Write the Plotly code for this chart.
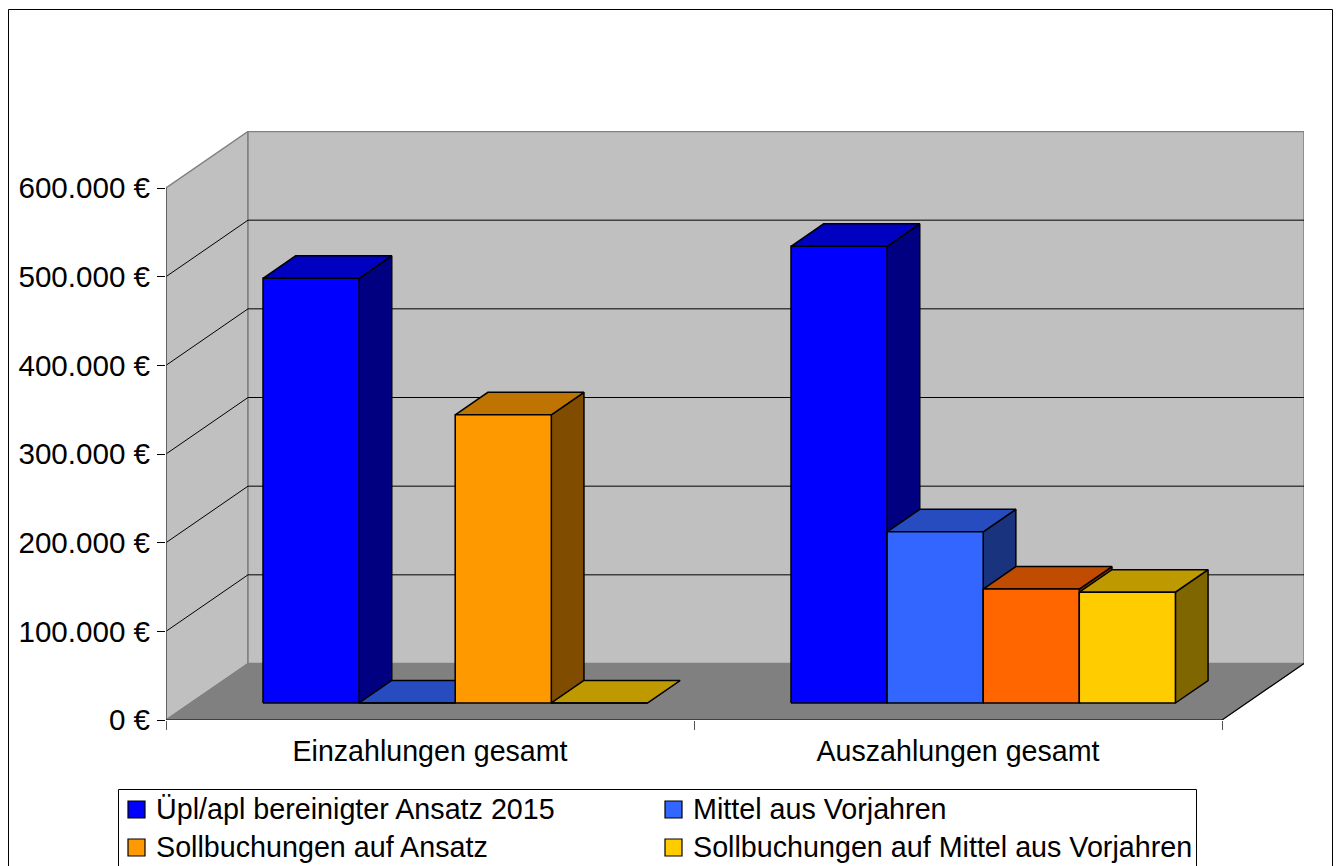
import plotly.graph_objects as go

categories = ["Einzahlungen gesamt", "Auszahlungen gesamt"]
series_names = ["Üpl/apl bereinigter Ansatz 2015", "Mittel aus Vorjahren",
                "Sollbuchungen auf Ansatz", "Sollbuchungen auf Mittel aus Vorjahren"]
ansatz = [479000, 515000]
mittel = [0, 193000]
soll_ansatz = [325000, 128500]
soll_mittel = [0, 125000]
y_ticks = [0, 100000, 200000, 300000, 400000, 500000, 600000]
y_tick_labels = ["0 €", "100.000 €", "200.000 €", "300.000 €", "400.000 €", "500.000 €", "600.000 €"]
legend_colors = ["#0000FF", "#3366FF", "#FF9900", "#FFCC00"]

# front, top, side colours per category and series
faces = [
    [("#0000FF", "#0000C0", "#000080"), ("#3366FF", "#264CBF", "#19337F"),
     ("#FF9900", "#BF7300", "#7F4C00"), ("#FFCC00", "#BF9900", "#7F6600")],
    [("#0000FF", "#0000C0", "#000080"), ("#3366FF", "#264CBF", "#19337F"),
     ("#FF6600", "#BF4C00", "#7F3300"), ("#FFCC00", "#BF9900", "#7F6600")],
]
values = [ansatz, mittel, soll_ansatz, soll_mittel]

W, H = 1342, 866
L, R, T, B = 166, 1304, 131, 720
PX_X = 528.0                # px per category
PX_Y = 532.0 / 600000       # px per euro
DEPTH_X = 82 / PX_X         # full depth in category units
DEPTH_Y = 56.5 / PX_Y       # full depth in euros
X_MAX = (R - L) / PX_X
Y_MAX = (B - T) / PX_Y
BAR_W = 96.1 / PX_X
D_FRONT, D_BACK = 17 / 56.5, 39.5 / 56.5


def proj(x, y, d=0.0):
    return x + d * DEPTH_X, y + d * DEPTH_Y


def poly(points, fill, color="black", width=1.5, name=None, close=True):
    pts = [proj(*p) for p in points]
    if close:
        pts.append(pts[0])
    return go.Scatter(x=[p[0] for p in pts], y=[p[1] for p in pts], mode="lines",
                      fill="toself" if fill else None, fillcolor=fill,
                      line=dict(color=color, width=width), name=name,
                      showlegend=False, hoverinfo="skip", cliponaxis=False)


fig = go.Figure()
y_top = y_ticks[-1]
# walls and floor
fig.add_trace(poly([(0, 0, 0), (0, y_top, 0), (0, y_top, 1), (0, 0, 1)], "#C0C0C0", "#808080", 1.5))
fig.add_trace(poly([(0, 0, 1), (0, y_top, 1), (2, y_top, 1), (2, 0, 1)], "#C0C0C0", "#808080", 1.5))
fig.add_trace(poly([(0, 0, 0), (2, 0, 0), (2, 0, 1), (0, 0, 1)], "#808080", "#808080", 1))
# grid lines
for v in y_ticks[1:-1]:
    fig.add_trace(poly([(0, v, 0), (0, v, 1), (2, v, 1)], None, "black", 1, close=False))
# frame lines
fig.add_trace(poly([(0, 0, 0), (0, y_top, 0)], None, "#555555", 1.5, close=False))
fig.add_trace(poly([(2, 0, 1), (2, 0, 0), (0, 0, 0)], None, "black", 1.2, close=False))

# bars
for i, cat in enumerate(categories):
    x0 = i + 0.501 - 2 * BAR_W
    for j, name in enumerate(series_names):
        v = values[j][i]
        a, b = x0 + j * BAR_W, x0 + (j + 1) * BAR_W
        front, top, side = faces[i][j]
        fig.add_trace(poly([(b, 0, D_FRONT), (b, v, D_FRONT), (b, v, D_BACK), (b, 0, D_BACK)], side))
        fig.add_trace(poly([(a, v, D_FRONT), (b, v, D_FRONT), (b, v, D_BACK), (a, v, D_BACK)], top))
        fig.add_trace(poly([(a, 0, D_FRONT), (a, v, D_FRONT), (b, v, D_FRONT), (b, 0, D_FRONT)], front,
                           name=f"{name} – {cat}"))


def px(x):
    return (x - L) / (R - L)


def py(y):
    return (B - y) / (B - T)


shapes = [
    dict(type="rect", xref="paper", yref="paper", x0=px(8.5), x1=px(1332.5), y0=py(900), y1=py(9.5),
         line=dict(color="black", width=1), layer="below"),
    dict(type="rect", xref="paper", yref="paper", x0=px(118.5), x1=px(1196.5), y0=py(900), y1=py(789.5),
         fillcolor="white", line=dict(color="black", width=1)),
]
annotations = []
LEG_X = [128, 665]
LEG_Y = [809, 847]
for k, name in enumerate(series_names):
    lx, ly = LEG_X[k % 2], LEG_Y[k // 2]
    shapes.append(dict(type="rect", xref="paper", yref="paper", x0=px(lx), x1=px(lx + 17),
                       y0=py(ly + 9), y1=py(ly - 8), fillcolor=legend_colors[k],
                       line=dict(color="black", width=1.2)))
    annotations.append(dict(xref="paper", yref="paper", x=px(lx + 26), y=py(ly), text=name, showarrow=False,
                            xanchor="left", yanchor="middle", font=dict(size=28.7, color="black")))

fig.update_layout(
    width=W, height=H, autosize=False,
    margin=dict(l=L, r=W - R, t=T, b=H - B, pad=0),
    paper_bgcolor="white", plot_bgcolor="white",
    font=dict(family="Liberation Sans, Arial, sans-serif", color="black"),
    showlegend=False, shapes=shapes, annotations=annotations,
    xaxis=dict(range=[0, X_MAX], tickvals=[0.5, 1.5], ticktext=categories, ticks="", showgrid=False,
               zeroline=False, showline=False, tickfont=dict(size=28.6), ticklabelstandoff=11,
               minor=dict(tickmode="array", tickvals=[0, 1, 2], ticks="outside", ticklen=9,
                          tickcolor="#555555", tickwidth=1, showgrid=False)),
    yaxis=dict(range=[0, Y_MAX], tickvals=y_ticks, ticktext=y_tick_labels, ticks="outside", ticklen=8,
               tickcolor="black", tickwidth=1, showgrid=False, zeroline=False, showline=False,
               tickfont=dict(size=29.6), ticklabelstandoff=1),
)

fig.write_html("out.html", config={"displayModeBar": False},
               post_script="document.body.style.margin='0';document.body.style.overflow='hidden';")
